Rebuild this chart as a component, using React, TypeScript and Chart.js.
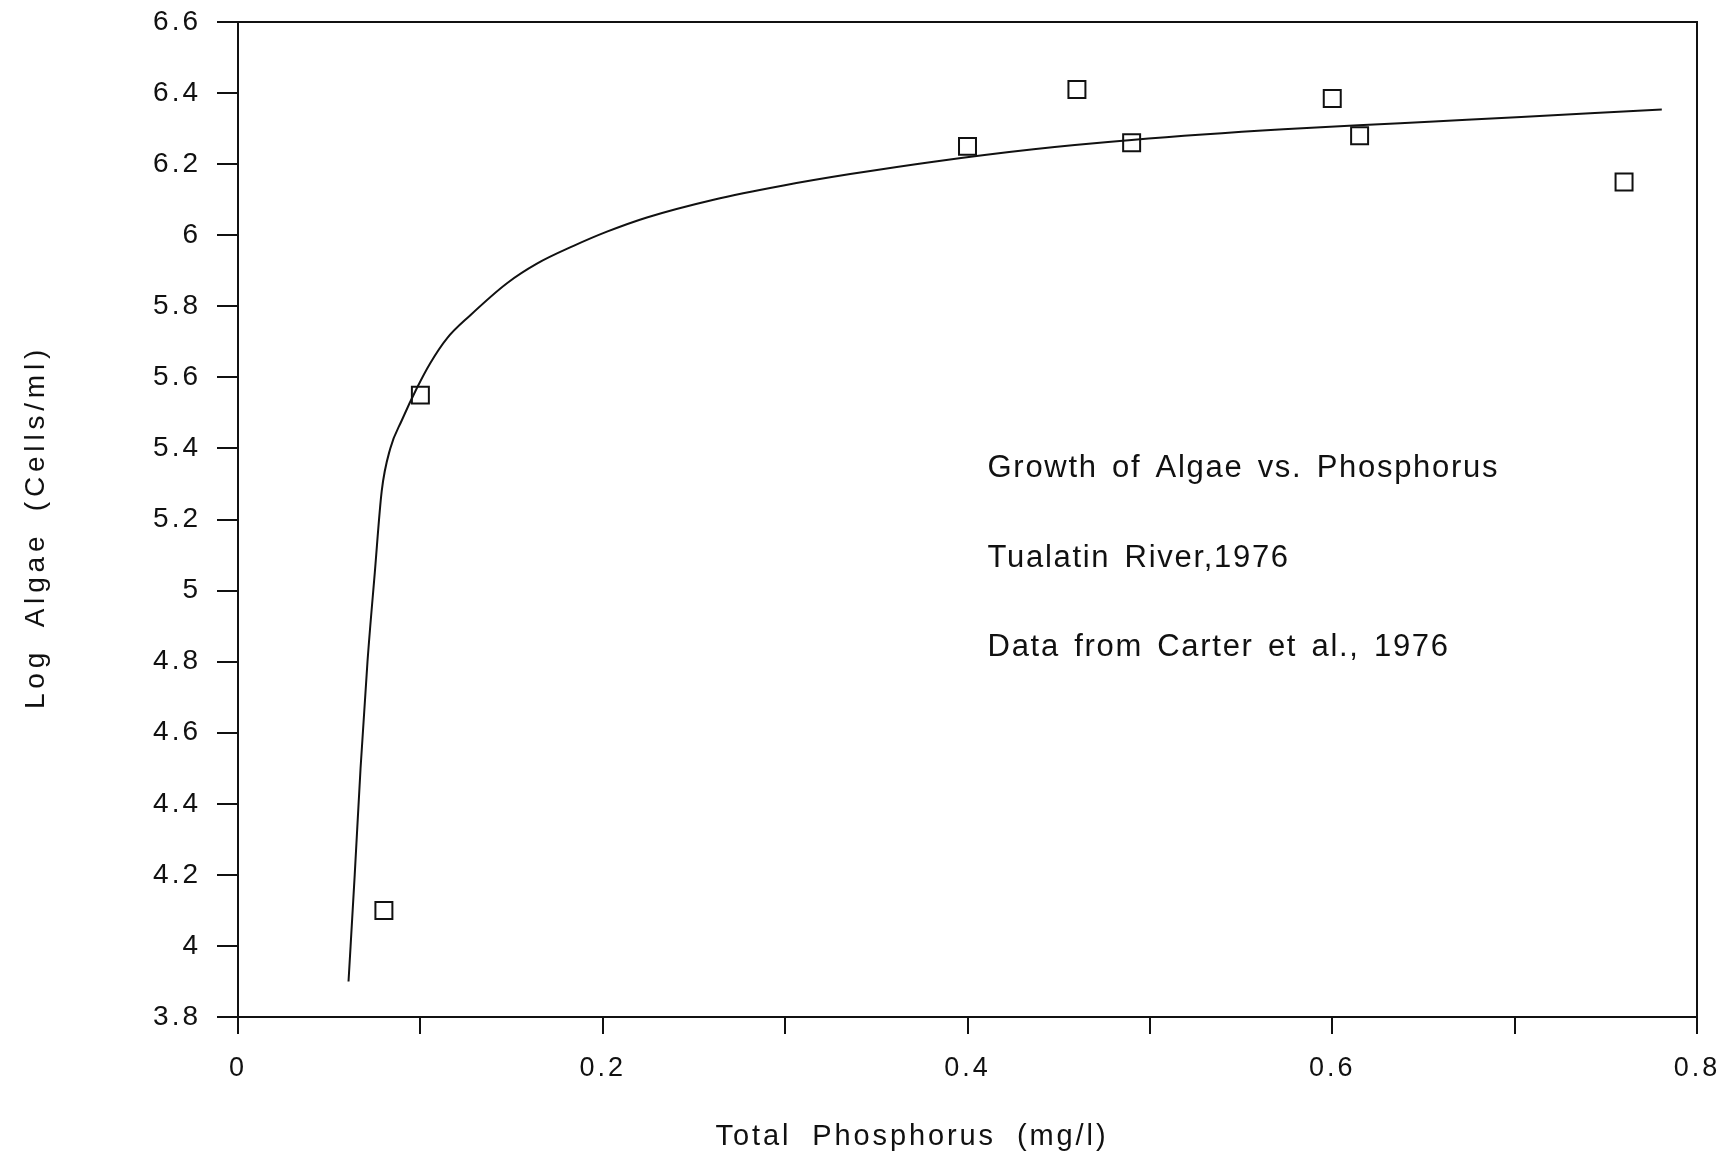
import React, { useEffect, useRef } from "react";
import { Chart, registerables } from "chart.js";

Chart.register(...registerables);

// Observed data (squares)
const obsPhosphorus = [0.08, 0.1, 0.4, 0.46, 0.49, 0.6, 0.615, 0.76];
const obsLogAlgae = [4.1, 5.55, 6.25, 6.41, 6.26, 6.385, 6.28, 6.15];

// Fitted curve
const fitPhosphorus = [
  0.0606, 0.064, 0.0672, 0.071, 0.075, 0.0788, 0.0835, 0.0899, 0.0981, 0.1054,
  0.1146, 0.1274, 0.1475, 0.1639, 0.184, 0.2023, 0.2242, 0.2608, 0.2991, 0.3357,
  0.3814, 0.4362, 0.49, 0.5732, 0.6372, 0.6738, 0.7414, 0.7807,
];
const fitLogAlgae = [
  3.9, 4.2, 4.5, 4.8, 5.05, 5.28, 5.4, 5.48, 5.57, 5.64,
  5.71, 5.775, 5.865, 5.92, 5.97, 6.01, 6.05, 6.1, 6.14, 6.172,
  6.207, 6.242, 6.268, 6.298, 6.315, 6.325, 6.343, 6.354,
];

const noteLines = [
  "Growth of Algae vs. Phosphorus",
  "Tualatin River,1976",
  "Data from Carter et al., 1976",
];
const xTitle = "Total Phosphorus (mg/l)";
const yTitle = "Log Algae (Cells/ml)";

const FONT = "'Liberation Sans', Arial, sans-serif";
const INK = "#111";

const textPlugin = {
  id: "texts",
  beforeDraw(chart: any) {
    (chart.ctx as any).letterSpacing = "3px";
  },
  afterDraw(chart: any) {
    const ctx = chart.ctx as any;
    const { chartArea, scales } = chart;
    ctx.save();
    ctx.strokeStyle = INK;
    ctx.lineWidth = 2;
    ctx.strokeRect(
      chartArea.left,
      chartArea.top,
      chartArea.right - chartArea.left,
      chartArea.bottom - chartArea.top
    );
    ctx.fillStyle = INK;
    // annotation block
    ctx.font = `31px ${FONT}`;
    ctx.letterSpacing = "1.7px";
    ctx.wordSpacing = "4px";
    ctx.textAlign = "left";
    ctx.textBaseline = "alphabetic";
    const nx = scales.x.getPixelForValue(0.411);
    noteLines.forEach((t, i) => ctx.fillText(t, nx, 477 + i * 89.5));
    // x title
    ctx.font = `29px ${FONT}`;
    ctx.letterSpacing = "2.9px";
    ctx.wordSpacing = "10px";
    ctx.textAlign = "center";
    ctx.fillText(xTitle, 912, 1145);
    // y title
    ctx.translate(44, 527);
    ctx.rotate(-Math.PI / 2);
    ctx.font = `28px ${FONT}`;
    ctx.letterSpacing = "4.8px";
    ctx.wordSpacing = "8px";
    ctx.fillText(yTitle, 0, 0);
    ctx.restore();
  },
};

export default function App() {
  const ref = useRef<HTMLCanvasElement | null>(null);

  useEffect(() => {
    if (!ref.current) return;
    const chart = new Chart(ref.current, {
      type: "scatter",
      data: {
        datasets: [
          {
            type: "line",
            data: fitPhosphorus.map((x, i) => ({ x, y: fitLogAlgae[i] })),
            borderColor: INK,
            borderWidth: 2,
            pointRadius: 0,
            fill: false,
            showLine: true,
            cubicInterpolationMode: "monotone",
          } as any,
          {
            type: "scatter",
            data: obsPhosphorus.map((x, i) => ({ x, y: obsLogAlgae[i] })),
            pointStyle: "rect",
            pointRadius: 12,
            pointHoverRadius: 12,
            borderColor: INK,
            borderWidth: 2,
            backgroundColor: "rgba(0,0,0,0)",
          } as any,
        ],
      },
      options: {
        animation: false,
        responsive: false,
        devicePixelRatio: 1,
        events: [],
        layout: { padding: { top: 22, right: 36, left: 0, bottom: 0 } },
        plugins: {
          legend: { display: false },
          tooltip: { enabled: false },
          title: { display: false },
        },
        scales: {
          x: {
            type: "linear",
            min: 0,
            max: 0.8,
            ticks: {
              stepSize: 0.1,
              autoSkip: false,
              maxRotation: 0,
              padding: 18,
              color: INK,
              font: { family: FONT, size: 27 },
              callback: (v: any) => {
                const k = Math.round(Number(v) * 10);
                if (k % 2) return "";
                return k === 0 ? "0" : (k / 10).toFixed(1);
              },
            },
            grid: {
              drawOnChartArea: false,
              drawTicks: true,
              tickLength: 17,
              color: INK,
              lineWidth: 2,
            },
            border: { display: true, color: INK, width: 2 },
            afterFit: (s: any) => {
              s.height = 142;
              s.paddingLeft = 0;
              s.paddingRight = 0;
            },
          },
          y: {
            type: "linear",
            min: 3.8,
            max: 6.6,
            ticks: {
              stepSize: 0.2,
              padding: 16,
              color: INK,
              font: { family: FONT, size: 28 },
              callback: (v: any) => String(Math.round(Number(v) * 10) / 10),
            },
            grid: {
              drawOnChartArea: false,
              drawTicks: true,
              tickLength: 21,
              color: INK,
              lineWidth: 2,
            },
            border: { display: true, color: INK, width: 2 },
            afterFit: (s: any) => {
              s.width = 238;
              s.paddingTop = 0;
              s.paddingBottom = 0;
            },
          },
        },
      } as any,
      plugins: [textPlugin as any],
    });
    return () => chart.destroy();
  }, []);

  return (
    <div style={{ position: "absolute", left: 0, top: 0, width: 1733, height: 1159, background: "#fff" }}>
      <canvas ref={ref} width={1733} height={1159} style={{ display: "block" }} />
    </div>
  );
}
